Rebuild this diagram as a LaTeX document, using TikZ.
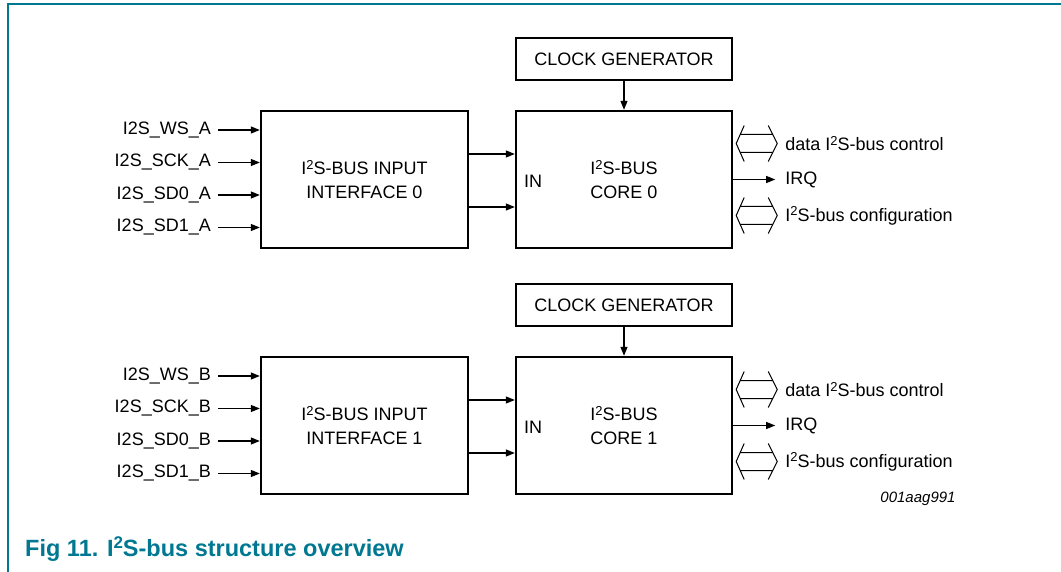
\documentclass[tikz,border=0pt]{standalone}
\usepackage{fontspec}
\setmainfont{Liberation Sans}
\usetikzlibrary{positioning,arrows.meta,calc}
\definecolor{nxpteal}{RGB}{0,120,145}
\newcommand{\supii}{\raisebox{0.6ex}{\scalebox{0.72}{2}}}

\begin{document}
\begin{tikzpicture}[
    x=1pt, y=-1pt,
    >={Triangle[length=9pt,width=7pt]},
    font=\fontsize{18}{24}\selectfont,
    block/.style={
        draw,
        line width=2.4pt,
        inner sep=0pt,
        align=center
    },
    clkblock/.style={block, minimum width=216pt, minimum height=42pt},
    ifblock/.style={block, minimum width=207pt, minimum height=137pt},
    coreblock/.style={block, minimum width=216pt, minimum height=137pt},
    sig/.style={->, line width=1.2pt},
    pinlbl/.style={anchor=east, inner sep=0pt},
    outlbl/.style={anchor=west, inner sep=0pt},
    bus/.pic={
        \draw[line width=1pt]
            (11,-18) -- (3,0) -- (11,18)
            (35,-18) -- (44,0) -- (35,18)
            (7,-9) -- (39.5,-9)
            (7,9) -- (39.5,9);
    }
]
\useasboundingbox (0,0) rectangle (1061,572);

% page frame
\draw[nxpteal, line width=1.4pt] (8,572) -- (8,4) -- (1061,4);

\foreach \g/\s/\dy in {0/A/0, 1/B/246} {
    \node[clkblock] (clk\g) at (624,59+\dy) {CLOCK GENERATOR};
    \node[ifblock] (if\g) at (364.5,179.5+\dy)
        {I\supii S-BUS INPUT\\INTERFACE \g};
    \node[coreblock] (core\g) at (624,179.5+\dy)
        {I\supii S-BUS\\CORE \g};

    % input pins
    \foreach \pin [count=\i] in {WS,SCK,SD0,SD1} {
        \node[pinlbl] (pin\g\i) at (211,97.5+32.5*\i+\dy) {I2S\_\pin\_\s};
        \draw[sig] ([xshift=7pt]pin\g\i.east) -- (pin\g\i.east -| if\g.west);
    }

    \draw[sig] ([yshift=25.5pt]if\g.east) -- ([yshift=25.5pt]core\g.west);
    \draw[sig] ([yshift=-27.5pt]if\g.east) -- ([yshift=-27.5pt]core\g.west);
    \node[outlbl] (in\g) at ([xshift=9pt,yshift=-1.5pt]core\g.west) {IN};

    \draw[sig] (clk\g) -- (core\g);

    % outputs
    \pic at ([yshift=36pt]core\g.east) {bus};
    \node[outlbl] (ctl\g) at ([xshift=52pt,yshift=36pt]core\g.east)
        {data I\supii S-bus control};
    \node[outlbl] (irq\g) at ([xshift=52pt]core\g.east) {IRQ};
    \draw[sig] (core\g.east) -- ([xshift=-10pt]irq\g.west);
    \pic at ([yshift=-36pt]core\g.east) {bus};
    \node[outlbl] (cfg\g) at ([xshift=52pt,yshift=-36pt]core\g.east)
        {I\supii S-bus configuration};
}

\node[font=\fontsize{15}{18}\selectfont\itshape] (figid) at (918,499) {001aag991};

\node[anchor=west, inner sep=0pt, text=nxpteal,
      font=\fontsize{23.5}{26}\selectfont\bfseries] (caption)
    at (25,549) {Fig 11. I\supii S-bus structure overview};

\end{tikzpicture}
\end{document}
